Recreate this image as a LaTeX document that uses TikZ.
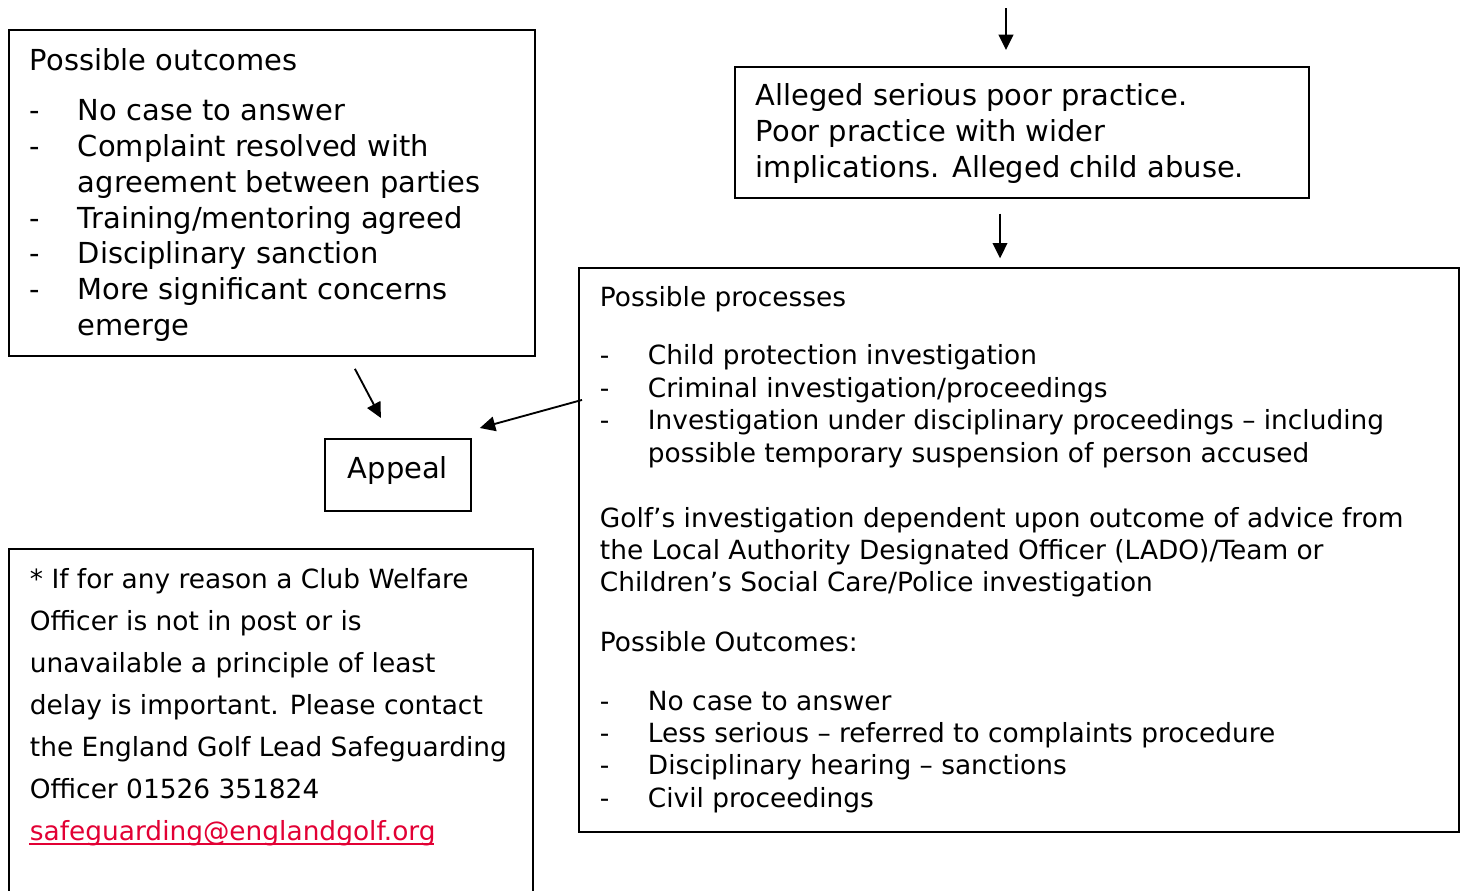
\documentclass[tikz,border=0pt]{standalone}
\usepackage{fontspec}
\setmainfont{DejaVu Sans}
\usetikzlibrary{arrows.meta,calc}
\definecolor{linkred}{RGB}{226,0,52}
\newcommand{\dashitem}{\makebox[36pt][l]{-}}
\newcommand{\hangin}{\hspace*{36pt}}
\begin{document}
\begin{tikzpicture}[x=0.75pt, y=-0.75pt, line width=1.4pt,
  box/.style = {draw, rectangle, inner sep=0pt, anchor=north west},
  bigtext/.style = {anchor=north west, inner sep=0pt, align=left, font=\fontsize{21.7}{26.8}\selectfont},
  smalltext/.style = {anchor=north west, inner sep=0pt, align=left, font=\fontsize{19.8}{24.3}\selectfont},
  notetext/.style = {anchor=north west, inner sep=0pt, align=left, font=\fontsize{19.8}{31.5}\selectfont},
  arr/.style = {-{Triangle[length=11.5pt,width=11pt]}, line width=1.4pt}]
\useasboundingbox (0,0) rectangle (1466,890);

% boxes
\node[box, minimum width=394.5pt, minimum height=244.5pt] (outcome) at (8,29) {};
\node[box, minimum width=430.5pt, minimum height=98.25pt] (alleged) at (734,66) {};
\node[box, minimum width=660pt, minimum height=423pt] (proc) at (578,267) {};
\node[box, minimum width=109.5pt, minimum height=54pt, text depth=11pt, font=\fontsize{21.7}{26.8}\selectfont] (appeal) at (324,438) {Appeal};
\node[box, minimum width=393pt, minimum height=270pt] (note) at (8,548) {};

% texts (first line strut puts the baseline 0.7 baselineskip below the top)
\node[bigtext] (outcometxt) at (29,45) {\strut Possible outcomes\\[10.7pt]
  \dashitem No case to answer\\
  \dashitem Complaint resolved with\\
  \hangin agreement between parties\\
  \dashitem Training/mentoring agreed\\
  \dashitem Disciplinary sanction\\
  \dashitem More significant concerns\\
  \hangin emerge};

\node[bigtext] (allegedtxt) at (755,80) {\strut Alleged serious poor practice.\\
  Poor practice with wider\\
  implications. Alleged child abuse.};

\node[smalltext] (proctxt) at (599,283.3) {\strut Possible processes\\[19.2pt]
  \dashitem Child protection investigation\\
  \dashitem Criminal investigation/proceedings\\
  \dashitem Investigation under disciplinary proceedings – including\\
  \hangin possible temporary suspension of person accused\\[24.5pt]
  Golf’s investigation dependent upon outcome of advice from\\
  the Local Authority Designated Officer (LADO)/Team or\\
  Children’s Social Care/Police investigation\\[20pt]
  Possible Outcomes:\\[20pt]
  \dashitem No case to answer\\
  \dashitem Less serious – referred to complaints procedure\\
  \dashitem Disciplinary hearing – sanctions\\
  \dashitem Civil proceedings};

\node[notetext] (notetxt) at (29,558.6) {\strut * If for any reason a Club Welfare\\
  Officer is not in post or is\\
  unavailable a principle of least\\
  delay is important. Please contact\\
  the England Golf Lead Safeguarding\\
  Officer 01526 351824\\
  {\color{linkred}safeguarding@englandgolf.org}};
\draw[linkred, line width=1.3pt] ([yshift=2.5pt]notetxt.south west) -- +(303.5pt,0);

% arrows
\coordinate (start) at (1006,8);
\coordinate (mid) at (1000,0);
\draw[arr, shorten >=12pt] (start) -- (alleged.north -| start);
\draw[arr, shorten <=11pt, shorten >=6.5pt] (alleged.south -| mid) -- (proc.north -| mid);
\draw[arr] ($(outcome.south)+(83,12)$) -- ($(appeal.north)+(-17,-20)$);
\draw[arr] ($(proc.west)+(4,-150)$) -- ($(appeal.north east)+(8,-10)$);
\end{tikzpicture}
\end{document}
